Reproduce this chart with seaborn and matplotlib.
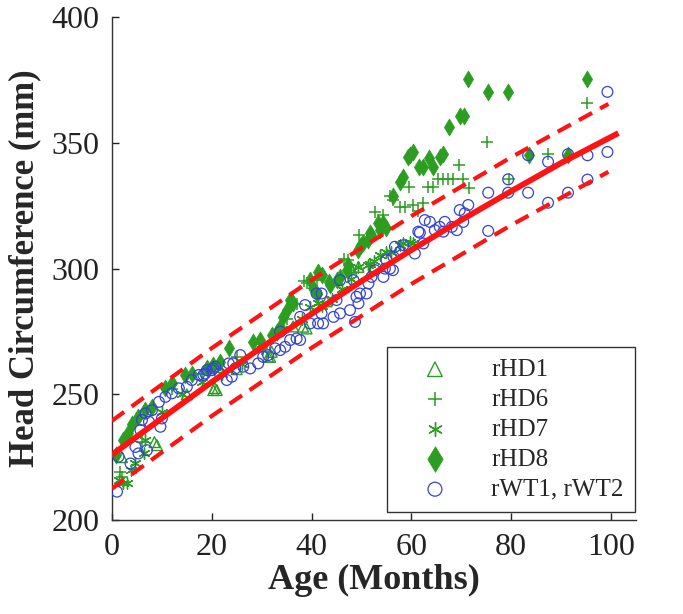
import matplotlib
matplotlib.use("Agg")
import matplotlib.pyplot as plt
import seaborn as sns

# ---- values: age (months) vs head circumference (mm)
hd1_age = [2.0, 8.5, 9.0, 15.0, 20.3, 20.6, 21.0, 25.0, 31.3, 31.7, 32.0,
           36.3, 38.3, 39.0, 43.0, 47.7, 48.0, 49.4]
hd1_hc = [225.0, 231.0, 229.8, 250.0, 251.7, 252.5, 251.7, 260.0, 265.0, 264.9, 266.9,
          277.0, 276.9, 276.2, 287.0, 300.5, 300.0, 300.7]

hd6_age = [1.6, 2.0, 6.0, 12.0, 18.0, 25.0, 30.0, 35.0, 37.0, 38.5, 39.0, 41.0,
           46.4, 47.4, 49.5, 52.7, 54.4, 55.7, 56.4, 57.7, 58.7, 59.6, 60.4, 61.4,
           62.4, 63.4, 64.4, 65.4, 66.4, 67.4, 68.4, 69.6, 70.4, 71.6, 75.2, 79.6,
           87.4, 95.3]
hd6_hc = [219.0, 217.2, 231.0, 252.0, 258.0, 265.0, 268.0, 280.0, 286.0, 295.0, 294.1, 295.4,
          304.0, 303.4, 313.5, 322.4, 321.5, 328.8, 327.2, 324.6, 324.6, 332.5, 325.3, 323.0,
          326.0, 332.3, 332.3, 335.5, 335.5, 335.5, 335.5, 341.2, 335.5, 332.1, 350.4, 335.5,
          345.5, 365.7]

hd7_age = [1.5, 2.3, 3.0, 3.9, 4.7, 6.4, 6.7, 10.0, 14.0, 18.0, 22.0, 26.0, 30.0,
           34.0, 38.0, 39.7, 41.3, 42.0, 44.0, 46.0, 48.0, 49.4, 51.4, 51.7, 52.5,
           53.7, 55.0, 56.0, 57.7, 58.4, 59.7, 60.4]
hd7_hc = [216.0, 214.6, 214.6, 219.9, 222.5, 226.5, 231.8, 243.0, 250.0, 255.0, 258.0, 262.0, 268.0,
          276.0, 280.0, 284.8, 286.2, 285.0, 288.0, 292.0, 296.0, 300.7, 301.4, 302.0, 303.0,
          305.4, 306.7, 306.7, 309.3, 310.0, 310.7, 310.0]

hd8_age = [0.7, 2.3, 3.3, 4.0, 5.3, 6.7, 8.0, 10.7, 12.0, 14.7, 16.0, 19.0, 20.3,
           21.6, 23.5, 28.3, 29.7, 32.0, 33.0, 33.7, 34.3, 35.0, 35.7, 36.3, 39.7,
           40.3, 41.0, 41.3, 42.0, 43.4, 43.7, 45.0, 45.7, 47.0, 47.4, 49.4, 50.0,
           50.4, 51.4, 51.7, 52.0, 53.4, 53.7, 54.4, 55.0, 56.4, 57.7, 58.4, 59.4,
           59.7, 60.4, 61.6, 62.4, 63.6, 64.4, 65.7, 66.4, 67.6, 69.7, 70.5, 71.4,
           75.4, 79.4, 83.6, 91.4, 95.3]
hd8_hc = [225.8, 231.8, 234.5, 238.4, 241.1, 243.7, 245.0, 252.4, 254.4, 257.7, 258.0, 260.3, 261.6,
          263.0, 268.3, 270.9, 271.6, 273.6, 274.9, 276.9, 280.8, 283.5, 287.5, 286.2, 295.4,
          292.1, 290.1, 298.7, 297.4, 294.8, 293.4, 295.4, 296.7, 299.4, 301.4, 307.4, 309.3,
          310.0, 311.3, 314.0, 313.3, 318.0, 315.3, 318.0, 316.0, 329.0, 334.5, 336.5, 344.5,
          345.0, 346.4, 340.5, 340.5, 343.8, 340.5, 344.5, 345.5, 356.4, 360.6, 360.6, 375.6,
          370.3, 370.3, 345.3, 345.3, 375.6]

wt_age = [1.0, 1.3, 3.7, 4.7, 5.3, 5.7, 6.0, 6.7, 7.0, 7.4, 8.0, 9.4, 9.7, 10.0,
          10.7, 12.0, 13.4, 15.0, 16.0, 17.4, 18.3, 18.7, 19.0, 20.0, 20.3, 20.7,
          21.6, 23.0, 23.4, 24.0, 24.3, 24.7, 25.7, 26.3, 27.7, 29.3, 30.3, 31.3,
          32.7, 33.7, 33.7, 34.7, 35.7, 37.0, 37.7, 37.7, 38.7, 39.7, 41.0, 41.3,
          42.0, 42.0, 42.3, 44.4, 45.0, 45.7, 45.7, 47.7, 48.4, 48.7, 49.0, 49.4,
          49.7, 51.0, 51.4, 52.0, 52.7, 54.4, 54.7, 55.0, 55.7, 56.3, 56.4, 56.7,
          57.7, 58.4, 60.7, 61.4, 61.7, 62.4, 62.7, 63.7, 64.7, 65.7, 66.4, 66.7,
          68.1, 69.1, 69.7, 70.4, 70.7, 71.4, 75.4, 75.4, 79.4, 79.4, 83.4, 83.4,
          87.4, 87.4, 91.4, 91.4, 95.3, 95.3, 99.3, 99.3]
wt_hc = [211.3, 225.2, 222.5, 229.1, 226.5, 235.8, 239.8, 242.4, 227.8, 239.1, 243.7, 247.0, 237.1, 240.4,
         249.0, 250.4, 252.4, 253.0, 255.7, 257.7, 257.7, 258.3, 259.6, 259.6, 260.3, 261.0,
         258.3, 255.7, 262.3, 257.0, 262.3, 260.3, 265.6, 261.0, 260.3, 262.3, 264.9, 265.6,
         268.3, 267.6, 274.9, 268.9, 271.6, 272.2, 271.6, 280.8, 285.5, 278.2, 290.1, 278.2,
         290.1, 282.2, 278.2, 280.8, 287.5, 282.2, 295.4, 283.5, 295.4, 278.8, 288.8, 286.2,
         290.1, 290.1, 294.1, 296.7, 299.4, 296.7, 300.0, 303.4, 300.0, 299.4, 304.7, 308.7,
         306.7, 309.3, 306.0, 314.7, 314.3, 310.0, 319.3, 318.6, 315.3, 316.6, 314.7, 318.6,
         316.6, 315.3, 323.3, 318.6, 322.0, 325.3, 330.2, 315.0, 335.5, 330.2, 345.1, 330.2,
         342.5, 326.2, 345.5, 330.2, 345.1, 335.4, 370.3, 346.4]

# fitted growth curve and its prediction band
fit_age = [0, 10, 20, 30, 40, 50, 60, 70, 80, 90, 101.5]
fit_hc = [226.0, 240.5, 254.9, 268.7, 282.0, 295.0, 307.4, 319.3, 330.8, 342.0, 353.9]
band_age = [0, 20, 40, 60, 80, 99.5]
band_hi = [239.5, 268.4, 295.5, 320.9, 344.3, 365.5]
band_lo = [212.5, 241.4, 268.5, 293.9, 317.3, 338.5]

green = "#2b9e22"
blue = "#3344d4"
red = "#ff1414"
serif = ["Liberation Serif", "DejaVu Serif"]

sns.set_theme(style="ticks")
plt.rcParams["font.family"] = serif

fig = plt.figure(figsize=(6.83, 6.14), dpi=100)
ax = fig.add_axes([0.164, 0.153, 0.767, 0.819])

sns.scatterplot(x=hd8_age, y=hd8_hc, marker="d", s=75, color=green,
                edgecolor=green, linewidth=0.5, label="rHD8", ax=ax, zorder=3)
sns.scatterplot(x=hd1_age, y=hd1_hc, marker="^", s=60, facecolors="none",
                edgecolor=green, linewidth=1.0, label="rHD1", ax=ax, zorder=3)
sns.scatterplot(x=hd6_age, y=hd6_hc, marker="+", s=75, color=green,
                edgecolor=green, linewidth=1.1, label="rHD6", ax=ax, zorder=3)
sns.scatterplot(x=hd7_age, y=hd7_hc, marker=(6, 2, 0), s=65, color=green,
                edgecolor=green, linewidth=1.0, label="rHD7", ax=ax, zorder=3)
sns.scatterplot(x=wt_age, y=wt_hc, marker="o", s=60, facecolors="none",
                edgecolor=blue, linewidth=0.9, label="rWT1, rWT2", ax=ax, zorder=3)

ax.plot(fit_age, fit_hc, color=red, lw=4.2, solid_capstyle="butt", zorder=4)
ax.plot(band_age, band_hi, color=red, lw=3.0, dashes=(3.6, 2.2), zorder=4)
ax.plot(band_age, band_lo, color=red, lw=3.0, dashes=(3.6, 2.2), zorder=4)

ax.set_xlim(0, 105)
ax.set_ylim(200, 400)
ax.set_xticks([0, 20, 40, 60, 80, 100])
ax.set_yticks([200, 250, 300, 350, 400])
ax.tick_params(direction="in", length=5, width=1, labelsize=23, pad=9,
               colors="#222222")
for side in ["top", "right"]:
    ax.spines[side].set_visible(False)
for side in ["left", "bottom"]:
    ax.spines[side].set_color("#333333")
    ax.spines[side].set_linewidth(1.0)

ax.set_xlabel("Age (Months)", fontsize=26, fontweight="bold", labelpad=2)
ax.set_ylabel("Head Circumference (mm)", fontsize=25, fontweight="bold", labelpad=7)

handles, labels = ax.get_legend_handles_labels()
order = ["rHD1", "rHD6", "rHD7", "rHD8", "rWT1, rWT2"]
hmap = dict(zip(labels, handles))
leg = ax.legend([hmap[k] for k in order], order, loc="lower right",
                bbox_to_anchor=(0.998, 0.016), borderaxespad=0,
                fontsize=18, frameon=True, fancybox=False, framealpha=1,
                edgecolor="#333333", handlelength=2.9, handletextpad=0.8,
                labelspacing=0.3, borderpad=0.45)
leg.get_frame().set_linewidth(1.0)
for h, sz in zip(leg.legend_handles, [110, 110, 100, 170, 100]):
    h.set_sizes([sz])

fig.savefig("out.png", dpi=100)
